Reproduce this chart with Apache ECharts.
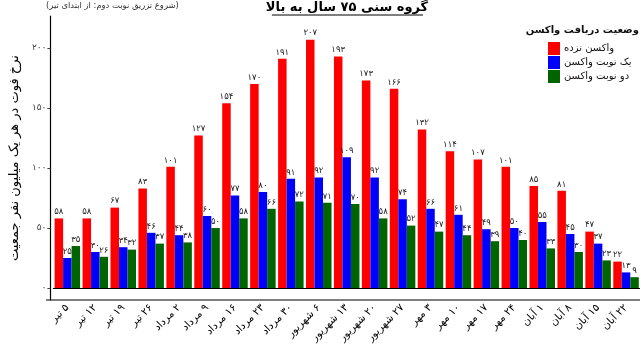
<!DOCTYPE html>
<html>
<head>
<meta charset="utf-8">
<script src="https://cdn.jsdelivr.net/npm/echarts@6/dist/echarts.min.js"></script>
<style>html,body{margin:0;padding:0;background:#fff;}#c{width:640px;height:346px;}</style>
</head>
<body>
<div id="c" dir="rtl"></div>
<script>
const categories = ['۵ تیر','۱۲ تیر','۱۹ تیر','۲۶ تیر','۲ مرداد','۹ مرداد','۱۶ مرداد','۲۳ مرداد','۳۰ مرداد','۶ شهریور','۱۳ شهریور','۲۰ شهریور','۲۷ شهریور','۳ مهر','۱۰ مهر','۱۷ مهر','۲۴ مهر','۱ آبان','۸ آبان','۱۵ آبان','۲۲ آبان'];
const unvaccinated = [58,58,67,83,101,127,154,170,191,207,193,173,166,132,114,107,101,85,81,47,22];
const oneDose = [25,30,34,46,44,60,77,80,91,92,109,92,74,66,61,49,50,55,45,37,13];
const twoDoses = [35,26,32,37,38,50,58,66,72,71,70,58,52,47,44,39,40,33,30,23,9];
const yTicks = [0,50,100,150,200];
const seriesNames = ['واکسن نزده','یک نوبت واکسن','دو نوبت واکسن'];
const titleText = 'گروه سنی ۷۵ سال به بالا';
const subtitleText = '(شروع تزریق نوبت دوم: از ابتدای تیر)';
const legendTitle = 'وضعیت دریافت واکسن';
const yName = 'نرخ فوت در هر یک میلیون نفر جمعیت';

const FONT = 'DejaVu Sans';
const toFa = n => String(n).replace(/\d/g, d => '۰۱۲۳۴۵۶۷۸۹'[d]);
const colors = ['#FF0000','#0000FF','#006400'];
const datasets = [unvaccinated, oneDose, twoDoses];

const chart = echarts.init(document.getElementById('c'), null, {renderer:'canvas'});
chart.setOption({
  animation: false,
  textStyle: {fontFamily: FONT},
  grid: {left: 49, right: -4, top: 16, bottom: 46, containLabel: false},
  legend: {
    orient: 'vertical', left: 543, top: 37,
    itemWidth: 12, itemHeight: 13, itemGap: 1,
    icon: 'rect', selectedMode: false,
    data: seriesNames,
    textStyle: {fontFamily: FONT, fontSize: 10, color: '#111', padding: [0,0,0,-1]}
  },
  graphic: [
    {type:'text', x: 347, y: 1, style:{text: titleText, font: 'bold 13px "DejaVu Sans"', fill:'#000', align:'center', verticalAlign:'top'}},
    {type:'line', shape:{x1:272, y1:15, x2:423, y2:15}, style:{stroke:'#000', lineWidth:1}},
    {type:'text', x: 46, y: 2, style:{text: subtitleText, font: '8.4px "DejaVu Sans"', fill:'#333', align:'left', verticalAlign:'top'}},
    {type:'text', x: 639, y: 25, style:{text: legendTitle, font: 'bold 10px "DejaVu Sans"', fill:'#111', align:'right', verticalAlign:'top'}},
    {type:'line', shape:{x1:46, y1:300, x2:640, y2:300}, style:{stroke:'#000', lineWidth:1.2}}
  ],
  xAxis: {
    type: 'category', data: categories,
    axisLine: {lineStyle: {color: '#000', width: 1.2}},
    axisTick: {alignWithLabel: true, length: 3, lineStyle: {color: '#000'}},
    axisLabel: {rotate: 45, margin: 6, fontSize: 10.5, color: '#000', fontFamily: FONT, interval: 0}
  },
  yAxis: {
    type: 'value', min: -10, max: 226.7, offset: 3,
    name: yName, nameLocation: 'middle', nameGap: 26, nameRotate: 90,
    nameTextStyle: {fontSize: 13, color: '#000', fontFamily: FONT},
    splitLine: {show: false},
    axisLine: {show: true, lineStyle: {color: '#000', width: 1.2}},
    axisTick: {show: true, length: 3, lineStyle: {color: '#444'}, customValues: yTicks},
    axisLabel: {fontSize: 9, color: '#444', margin: 4, fontFamily: FONT, customValues: yTicks, formatter: v => toFa(v)}
  },
  series: datasets.map((d, i) => ({
    name: seriesNames[i], type: 'bar', data: d,
    barWidth: 8.5, barGap: '0%',
    itemStyle: {color: colors[i]},
    label: {show: true, position: 'top', distance: 2, fontSize: 8.5, color: '#222', fontFamily: FONT, formatter: p => toFa(p.value)}
  }))
});
</script>
</body>
</html>
